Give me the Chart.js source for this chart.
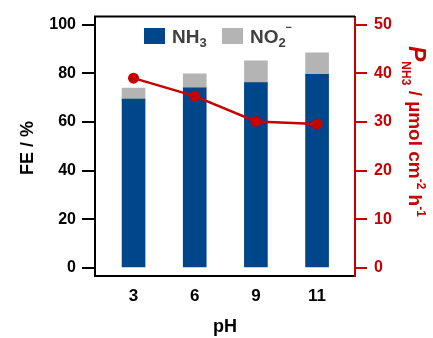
<!DOCTYPE html>
<html>
<head>
<meta charset="utf-8">
<script src="https://cdn.jsdelivr.net/npm/chart.js@4/dist/chart.umd.min.js"></script>
<style>
  html, body { margin: 0; padding: 0; background: #fff; }
  #wrap { width: 433px; height: 338px; }
</style>
</head>
<body>
<div id="wrap"><canvas id="chart" width="433" height="338"></canvas></div>
<script>
// data
const phLabels = ['3', '6', '9', '11'];
const feNH3 = [69.4, 74.0, 76.2, 79.6];      // FE of NH3, %
const feNO2 = [4.5, 5.8, 8.9, 8.8];          // FE of NO2-, % (stacked on top)
const rateNH3 = [39.0, 35.3, 30.1, 29.6];    // P_NH3, umol cm-2 h-1
const leftTicks = [0, 20, 40, 60, 80, 100];
const rightTicks = [0, 10, 20, 30, 40, 50];

const BLUE = '#00468b';
const GREY = '#b4b4b4';
const RED = '#c80000';
const FONT = '"Liberation Sans", Arial, sans-serif';

const pts = arr => arr.map((v, i) => ({ x: i, y: v }));

// frame, axis titles and legend (needs sub/superscripts)
const decor = {
  id: 'decor',
  afterDraw(chart) {
    const c = chart.ctx;
    const a = chart.chartArea;
    c.save();
    // top border
    c.strokeStyle = '#000';
    c.lineWidth = 2;
    c.beginPath();
    c.moveTo(a.left - 1, a.top);
    c.lineTo(a.right, a.top);
    c.stroke();

    c.textBaseline = 'alphabetic';
    // left title
    c.fillStyle = '#000';
    c.font = 'bold 18px ' + FONT;
    c.save();
    c.translate(33, 148);
    c.rotate(-Math.PI / 2);
    c.textAlign = 'center';
    c.fillText('FE / %', 0, 0);
    c.restore();

    // x title
    c.textAlign = 'center';
    c.fillText('pH', 225, 332);

    // right title, rotated clockwise
    c.save();
    c.translate(409, 46);
    c.rotate(Math.PI / 2);
    c.fillStyle = RED;
    c.textAlign = 'left';
    let x = 0;
    const part = (txt, font, dy) => {
      c.font = font;
      c.fillText(txt, x, dy);
      x += c.measureText(txt).width;
    };
    part('P', 'italic bold 23px ' + FONT, 0);
    part('NH3', 'bold 12px ' + FONT, 7);
    part(' / \u00b5mol cm', 'bold 19px ' + FONT, 0);
    part('-2', 'bold 12px ' + FONT, -8);
    part(' h', 'bold 19px ' + FONT, 0);
    part('-1', 'bold 12px ' + FONT, -8);
    c.restore();

    // legend
    const items = [
      { color: BLUE, x: 144, base: 'NH', sub: '3', sup: '' },
      { color: GREY, x: 222, base: 'NO', sub: '2', sup: '\u2212' }
    ];
    items.forEach(it => {
      c.fillStyle = it.color;
      c.fillRect(it.x, 28, 21, 16);
      c.fillStyle = '#404040';
      c.textAlign = 'left';
      let tx = it.x + 28;
      c.font = 'bold 19px ' + FONT;
      c.fillText(it.base, tx, 43);
      tx += c.measureText(it.base).width;
      c.font = 'bold 13px ' + FONT;
      c.fillText(it.sub, tx, 47);
      if (it.sup) {
        c.font = 'bold 11px ' + FONT;
        c.fillText(it.sup, tx + 7, 31);
      }
    });
    c.restore();
  }
};

new Chart(document.getElementById('chart'), {
  type: 'bar',
  data: {
    datasets: [
      {
        type: 'line',
        label: 'P_NH3',
        data: pts(rateNH3),
        yAxisID: 'y2',
        borderColor: RED,
        backgroundColor: RED,
        borderWidth: 2.5,
        pointRadius: 5.5,
        pointBackgroundColor: RED,
        pointBorderWidth: 0,
        order: 0
      },
      {
        label: 'NH3',
        data: pts(feNH3),
        backgroundColor: BLUE,
        barThickness: 23,
        yAxisID: 'y',
        stack: 'fe',
        order: 1
      },
      {
        label: 'NO2-',
        data: pts(feNO2),
        backgroundColor: GREY,
        barThickness: 23,
        yAxisID: 'y',
        stack: 'fe',
        order: 1
      }
    ]
  },
  options: {
    responsive: false,
    animation: false,
    layout: { padding: { top: 13, left: 0, right: 0, bottom: 0 } },
    plugins: {
      legend: { display: false },
      tooltip: { enabled: false }
    },
    scales: {
      x: {
        type: 'linear',
        stacked: true,
        offset: false,
        min: -0.63,
        max: 3.62,
        afterBuildTicks: s => { s.ticks = phLabels.map((_, i) => ({ value: i })); },
        afterFit: s => { s.height = 62; },
        grid: { display: false },
        border: { color: '#000', width: 2 },
        ticks: {
          callback: v => phLabels[v],
          color: '#000',
          font: { family: FONT, size: 17, weight: 'bold' },
          padding: 2,
          maxRotation: 0
        }
      },
      y: {
        position: 'left',
        stacked: true,
        min: -3.3,
        max: 103.3,
        afterBuildTicks: s => { s.ticks = leftTicks.map(v => ({ value: v })); },
        afterFit: s => { s.width = 95; },
        grid: { drawOnChartArea: false, tickLength: 13, color: '#000', lineWidth: 2 },
        border: { color: '#000', width: 2 },
        ticks: {
          color: '#000',
          font: { family: FONT, size: 16, weight: 'bold' },
          padding: 6
        }
      },
      y2: {
        position: 'right',
        min: -1.65,
        max: 51.65,
        afterBuildTicks: s => { s.ticks = rightTicks.map(v => ({ value: v })); },
        afterFit: s => { s.width = 78; },
        grid: { drawOnChartArea: false, tickLength: 12, color: RED, lineWidth: 2 },
        border: { color: RED, width: 2 },
        ticks: {
          color: RED,
          font: { family: FONT, size: 16, weight: 'bold' },
          padding: 7
        }
      }
    }
  },
  plugins: [decor]
});
</script>
</body>
</html>
